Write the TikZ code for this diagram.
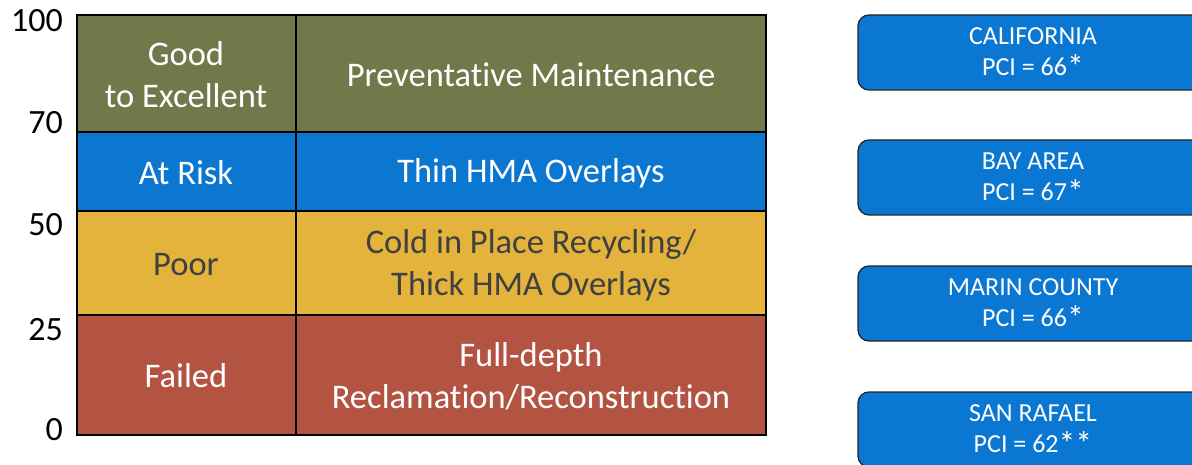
\documentclass[tikz,border=0pt]{standalone}
\usepackage{fontspec}
\setmainfont{Carlito}[Ligatures=NoCommon]
\definecolor{olive}{HTML}{72784A}
\definecolor{riskblue}{HTML}{0B77D0}
\definecolor{poory}{HTML}{E3B33C}
\definecolor{failred}{HTML}{B25441}
\definecolor{darktext}{HTML}{404040}
\definecolor{boxblue}{HTML}{0A77D2}
\tikzset{
  celltext/.style={align=center,font=\fontsize{34.5}{42}\selectfont,inner sep=0pt},
  axislabel/.style={anchor=base east,font=\fontsize{34}{40}\selectfont,inner sep=0pt},
  pcibox/.style={draw=black!85,line width=1.3pt,fill=boxblue,rounded corners=11pt},
  pcitext/.style={align=center,text=white,font=\fontsize{26}{31}\selectfont,inner sep=0pt},
  grid line/.style={draw=black,line width=1.6pt}
}
\newcommand{\bigstar}{\raisebox{-0.12em}{\scalebox{1.3}{*}}}
\begin{document}
\begin{tikzpicture}[x=1pt,y=-1pt]
\useasboundingbox (0,0) rectangle (1192,465);
% rows
\fill[olive] (77,15) rectangle (766,132);
\fill[riskblue] (77,132) rectangle (766,211);
\fill[poory] (77,211) rectangle (766,315);
\fill[failred] (77,315) rectangle (766,435);
% grid
\draw[grid line] (77,15) rectangle (766,435);
\draw[grid line] (77,132) -- (766,132);
\draw[grid line] (77,211) -- (766,211);
\draw[grid line] (77,315) -- (766,315);
\draw[grid line] (296,15) -- (296,435);
% axis labels
\node[axislabel] (a100) at (63,32) {100};
\node[axislabel] (a70) at (63,134) {70};
\node[axislabel] (a50) at (63,236) {50};
\node[axislabel] (a25) at (63,340) {25};
\node[axislabel] (a0) at (63,440) {0};
% left column
\node[celltext,text=white] (good) at (186,75) {Good\\to Excellent};
\node[celltext,text=white] (risk) at (186,173) {At Risk};
\node[celltext,text=darktext] (poor) at (186,265) {Poor};
\node[celltext,text=white] (failed) at (186,376) {Failed};
% right column
\node[celltext,text=white] (prev) at (531,75) {Preventative Maintenance};
\node[celltext,text=white] (thin) at (531,173) {Thin HMA Overlays};
\node[celltext,text=darktext] (cold) at (531,265) {Cold in Place Recycling/\\Thick HMA Overlays};
\node[celltext,text=white] (full) at (531,376) {Full-depth\\Reclamation/Reconstruction};
% PCI boxes
\draw[pcibox] (858,15) rectangle (1210,90);
\node[pcitext] (cal) at (1033,53) {CALIFORNIA\\PCI = 66\bigstar};
\draw[pcibox] (858,140) rectangle (1210,215);
\node[pcitext] (bay) at (1033,178) {BAY AREA\\PCI = 67\bigstar};
\draw[pcibox] (858,266) rectangle (1210,341);
\node[pcitext] (marin) at (1033,304) {MARIN COUNTY\\PCI = 66\bigstar};
\draw[pcibox] (858,392) rectangle (1210,467);
\node[pcitext] (sr) at (1033,430) {SAN RAFAEL\\PCI = 62\bigstar\bigstar};
\end{tikzpicture}
\end{document}
